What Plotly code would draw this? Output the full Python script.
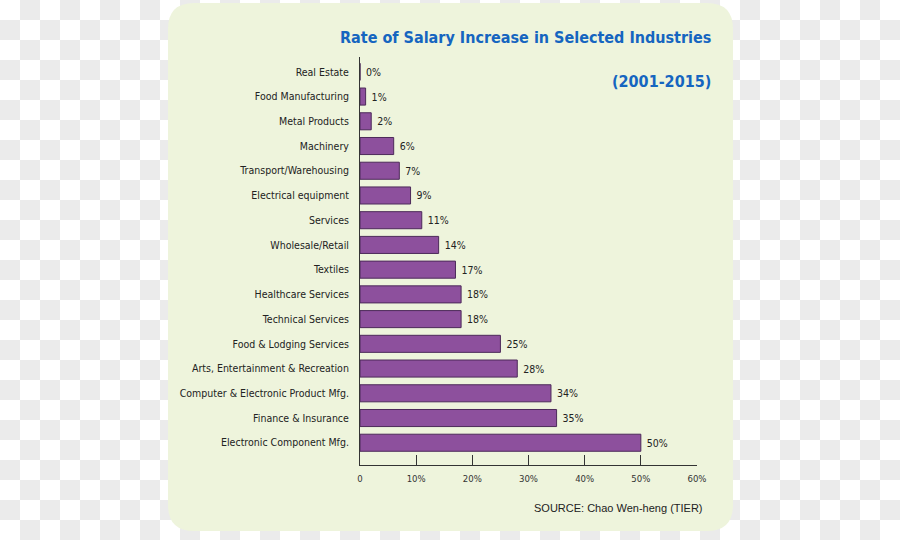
import plotly.graph_objects as go

categories = [
    "Real Estate", "Food Manufacturing", "Metal Products", "Machinery",
    "Transport/Warehousing", "Electrical equipment", "Services", "Wholesale/Retail",
    "Textiles", "Healthcare Services", "Technical Services", "Food & Lodging Services",
    "Arts, Entertainment & Recreation", "Computer & Electronic Product Mfg.",
    "Finance & Insurance", "Electronic Component Mfg.",
]
values = [0, 1, 2, 6, 7, 9, 11, 14, 17, 18, 18, 25, 28, 34, 35, 50]
tick_vals = [0, 10, 20, 30, 40, 50, 60]
tick_text = ["0", "10%", "20%", "30%", "40%", "50%", "60%"]

W, H = 900, 540
ML, MR, MT, MB = 360, 203, 57, 75
PW, PH = W - ML - MR, H - MT - MB

def px(x):
    return (x - ML) / PW

def py(y):
    return 1 - (y - MT) / PH

NARROW = "DejaVu Sans Condensed, Liberation Sans Narrow, Arial, sans-serif"

# checkerboard (transparent-image placeholder) as one path
parts = []
for i in range(W // 20 + 1):
    for j in range(H // 20 + 1):
        if (i + j) % 2 == 1:
            x0, x1 = i * 20, min(i * 20 + 20, W)
            y0, y1 = j * 20, min(j * 20 + 20, H)
            parts.append(f"M{px(x0):.5f},{py(y0):.5f} L{px(x1):.5f},{py(y0):.5f} "
                         f"L{px(x1):.5f},{py(y1):.5f} L{px(x0):.5f},{py(y1):.5f} Z")
checker_path = " ".join(parts)

# rounded panel
L, R, T, B, r = 168, 733, 3, 531, 26
panel_path = (
    f"M{px(L + r)},{py(T)} L{px(R - r)},{py(T)} Q{px(R)},{py(T)} {px(R)},{py(T + r)} "
    f"L{px(R)},{py(B - r)} Q{px(R)},{py(B)} {px(R - r)},{py(B)} "
    f"L{px(L + r)},{py(B)} Q{px(L)},{py(B)} {px(L)},{py(B - r)} "
    f"L{px(L)},{py(T + r)} Q{px(L)},{py(T)} {px(L + r)},{py(T)} Z"
)

fig = go.Figure(go.Bar(
    x=values, y=categories, orientation="h",
    marker=dict(color="#8d509d", line=dict(color="#4d2a5a", width=1)),
    width=0.69,
    text=[f" {v}%" for v in values], textposition="outside",
    textfont=dict(family=NARROW, size=10.5, color="#222222"),
    cliponaxis=False, hoverinfo="skip",
))

fig.update_layout(
    width=W, height=H,
    margin=dict(l=ML, r=MR, t=MT, b=MB),
    paper_bgcolor="white", plot_bgcolor="rgba(0,0,0,0)",
    showlegend=False,
    shapes=[
        dict(type="path", path=checker_path, xref="paper", yref="paper",
             fillcolor="#ebebeb", line=dict(width=0), layer="below"),
        dict(type="path", path=panel_path, xref="paper", yref="paper",
             fillcolor="#eef4dc", line=dict(width=0), layer="below"),
    ],
    xaxis=dict(
        range=[0, 60], tickvals=tick_vals, ticktext=tick_text,
        showgrid=False, zeroline=False, showline=True, linecolor="#333333", linewidth=1,
        ticks="inside", ticklen=10, tickcolor="#333333", tickwidth=1,
        tickfont=dict(family=NARROW, size=9.5, color="#333333"),
        ticklabelstandoff=5,
    ),
    yaxis=dict(
        categoryorder="array", categoryarray=categories,
        range=[15.9, -0.6],
        showgrid=False, zeroline=False, showline=True, linecolor="#333333", linewidth=1,
        ticks="", ticklabelstandoff=8,
        tickfont=dict(family=NARROW, size=10.5, color="#222222"),
    ),
    annotations=[
        dict(text="<b>Rate of Salary Increase in Selected Industries</b>",
             xref="paper", yref="paper", x=px(713), y=py(38),
             xanchor="right", yanchor="middle", showarrow=False,
             font=dict(family=NARROW, size=16, color="#1565c0")),
        dict(text="<b>(2001-2015)</b>",
             xref="paper", yref="paper", x=px(713), y=py(81),
             xanchor="right", yanchor="middle", showarrow=False,
             font=dict(family=NARROW, size=16, color="#1565c0")),
        dict(text="SOURCE: Chao Wen-heng (TIER)",
             xref="paper", yref="paper", x=px(705), y=py(508),
             xanchor="right", yanchor="middle", showarrow=False,
             font=dict(family="Liberation Sans, Arial, sans-serif", size=11, color="#222222")),
    ],
)

fig.write_html("out.html", config={"displayModeBar": False},
               post_script="document.body.style.margin='0px';")
